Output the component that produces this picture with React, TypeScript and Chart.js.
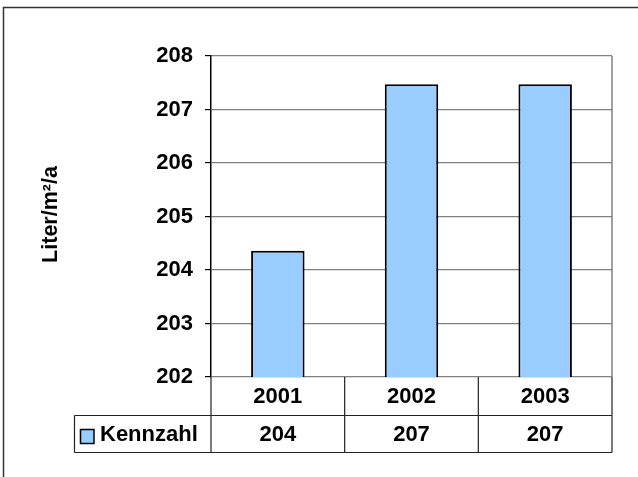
import React, { useEffect, useRef } from "react";
import { Chart, registerables } from "chart.js";

Chart.register(...registerables);

const categories = ["2001", "2002", "2003"];
const seriesName = "Kennzahl";
const values = [204.36, 207.47, 207.47];
const tableLabels = ["204", "207", "207"];
const yMin = 202;
const yMax = 208;
const yStep = 1;
const axisTitle = "Liter/m²/a";

const FONT = "'Liberation Sans', Arial, sans-serif";
const BAR_COLOR = "#99CCFF";

const tablePlugin = {
  id: "excelTable",
  afterDraw(chart: any) {
    const ctx = chart.ctx as CanvasRenderingContext2D;
    const area = chart.chartArea;
    const x = chart.scales.x;
    ctx.save();
    // outer frame
    ctx.strokeStyle = "#333";
    ctx.lineWidth = 1.5;
    ctx.strokeRect(3.5, 7.5, 800, 800);

    // plot right border
    ctx.strokeStyle = "#808080";
    ctx.lineWidth = 1.5;
    ctx.beginPath();
    ctx.moveTo(area.right, area.top);
    ctx.lineTo(area.right, area.bottom);
    ctx.stroke();

    const n = categories.length;
    const half = (x.getPixelForValue(1) - x.getPixelForValue(0)) / 2;
    const bounds: number[] = [];
    for (let i = 0; i < n; i++) bounds.push(x.getPixelForValue(i) - half);
    bounds.push(x.getPixelForValue(n - 1) + half);

    const r0 = area.bottom;
    const r1 = r0 + 38.5;
    const r2 = r1 + 37;
    const legLeft = 74.5;

    ctx.strokeStyle = "#222";
    ctx.lineWidth = 1.2;
    ctx.beginPath();
    ctx.moveTo(legLeft, r1);
    ctx.lineTo(bounds[n], r1);
    ctx.moveTo(legLeft, r2);
    ctx.lineTo(bounds[n], r2);
    for (let i = 0; i <= n; i++) {
      ctx.moveTo(bounds[i], r0);
      ctx.lineTo(bounds[i], r2);
    }
    ctx.moveTo(legLeft, r1);
    ctx.lineTo(legLeft, r2);
    ctx.stroke();

    ctx.fillStyle = "#000";
    ctx.font = `bold 22px ${FONT}`;
    ctx.textAlign = "center";
    ctx.textBaseline = "middle";
    for (let i = 0; i < n; i++) {
      const cx = x.getPixelForValue(i);
      ctx.fillText(categories[i], cx, (r0 + r1) / 2 + 1);
      ctx.fillText(tableLabels[i], cx, (r1 + r2) / 2 + 1);
    }

    // legend key
    ctx.fillStyle = BAR_COLOR;
    ctx.fillRect(80.5, 429.5, 13.5, 14);
    ctx.strokeStyle = "#000";
    ctx.lineWidth = 1.5;
    ctx.strokeRect(80.5, 429.5, 13.5, 14);
    ctx.fillStyle = "#000";
    ctx.textAlign = "left";
    ctx.fillText(seriesName, 100, (r1 + r2) / 2 + 1);

    // axis title
    ctx.save();
    ctx.translate(51, (area.top + area.bottom) / 2 - 2);
    ctx.rotate(-Math.PI / 2);
    ctx.textAlign = "center";
    ctx.textBaseline = "middle";
    ctx.font = `bold 21.5px ${FONT}`;
    ctx.fillText(axisTitle, 0, 0);
    ctx.restore();

    ctx.restore();
  },
};

export default function App() {
  const ref = useRef<HTMLCanvasElement | null>(null);
  useEffect(() => {
    if (!ref.current) return;
    const chart = new Chart(ref.current, {
      type: "bar",
      data: {
        labels: categories,
        datasets: [
          {
            label: seriesName,
            data: values,
            backgroundColor: BAR_COLOR,
            borderColor: "#000",
            borderWidth: 2,
            borderSkipped: false,
            categoryPercentage: 1,
            barPercentage: 0.4,
          },
        ],
      },
      options: {
        responsive: false,
        animation: false,
        devicePixelRatio: 1,
        layout: { padding: { left: 0, top: 56, right: 26, bottom: 100 } },
        plugins: {
          legend: { display: false },
          tooltip: { enabled: false },
          title: { display: false },
        },
        scales: {
          x: { display: false },
          y: {
            min: yMin,
            max: yMax,
            afterFit: (s: any) => {
              s.width = 211;
            },
            ticks: {
              stepSize: yStep,
              padding: 12,
              color: "#000",
              font: { family: FONT, size: 22, weight: "bold" },
            },
            grid: {
              color: "#808080",
              lineWidth: 1.2,
              tickLength: 6,
              tickColor: "#000",
              drawTicks: true,
            },
            border: { color: "#000", width: 1.5 },
          },
        },
      },
      plugins: [tablePlugin],
    });
    return () => chart.destroy();
  }, []);
  return (
    <div style={{ position: "fixed", left: 0, top: 0, width: 638, height: 477, background: "#fff" }}>
      <canvas ref={ref} width={638} height={477} style={{ width: 638, height: 477, display: "block" }} />
    </div>
  );
}
